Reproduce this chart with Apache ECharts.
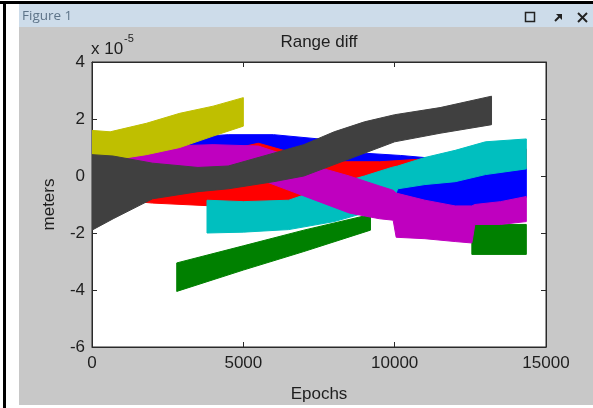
<!DOCTYPE html>
<html>
<head>
<meta charset="utf-8">
<script src="https://cdn.jsdelivr.net/npm/echarts@6/dist/echarts.min.js"></script>
<style>
  html, body { margin: 0; padding: 0; background: #ffffff; }
  #chart { width: 593px; height: 408px; }
</style>
</head>
<body>
<div id="chart"></div>
<script>
// Range difference per receiver, in units of 1e-5 m, as envelope bands (low / high) over epochs.
const xTicks = [0, 5000, 10000, 15000];
const yTicks = [-6, -4, -2, 0, 2, 4];

const blueEpochs = [0, 1500, 3000, 4500, 6000, 7500, 9000, 10200, 11500, 12500, 13500, 14350];
const blueHigh   = [0.3, 0.8, 1.35, 1.45, 1.45, 1.3, 0.8, 0.72, 0.6, 0.5, 0.4, 0.3];
const blueLow    = [-0.6, -0.7, -0.7, -0.7, -0.7, -0.6, -0.45, -0.65, -1.15, -1.15, -0.95, -0.75];

const greenEpochsA = [2800, 5000, 7000, 9200];
const greenHighA   = [-3.05, -2.45, -1.9, -1.35];
const greenLowA    = [-4.05, -3.3, -2.65, -1.9];
const greenEpochsB = [12550, 14350];
const greenHighB   = [-1.7, -1.7];
const greenLowB    = [-2.75, -2.75];

const redEpochs = [500, 2000, 4000, 5500, 6500, 8000, 9500, 11000, 13000, 14350];
const redHigh   = [0.2, 0.4, 0.8, 1.15, 0.85, 0.5, 0.5, 0.6, 0.75, 0.95];
const redLow    = [-0.8, -0.95, -1.05, -1.05, -1.05, -0.45, -0.25, -0.05, 0.15, 0.3];

const cyanEpochs = [3800, 5000, 6500, 8000, 9000, 9900, 10100, 11000, 12000, 13000, 14350];
const cyanHigh   = [-0.85, -0.9, -0.85, -0.3, 0.0, 0.3, 0.35, 0.65, 0.9, 1.2, 1.3];
const cyanLow    = [-2.0, -1.97, -1.88, -1.6, -1.3, -1.05, -0.45, -0.3, -0.2, 0.05, 0.25];

const magentaEpochs = [0, 1000, 2500, 4000, 5500, 6500, 7500, 8500, 9500, 9950, 10050, 11000, 12000, 12550, 12650, 13500, 14350];
const magentaHigh   = [0.3, 0.6, 1.05, 1.1, 1.05, 0.7, 0.3, 0.0, -0.35, -0.5, -0.6, -0.85, -1.05, -1.05, -1.0, -0.9, -0.72];
const magentaLow    = [-0.3, -0.2, 0.0, 0.0, -0.1, -0.5, -0.9, -1.3, -1.5, -1.55, -2.15, -2.2, -2.3, -2.35, -1.7, -1.7, -1.6];

const yellowEpochs = [0, 600, 1800, 2900, 4000, 5000];
const yellowHigh   = [1.6, 1.55, 1.85, 2.2, 2.45, 2.75];
const yellowLow    = [0.6, 0.55, 0.75, 1.0, 1.4, 1.75];

const greyEpochs = [0, 700, 2000, 3500, 4500, 6000, 7000, 8000, 9000, 10000, 11500, 13200];
const greyHigh   = [0.75, 0.7, 0.45, 0.3, 0.35, 0.8, 1.1, 1.55, 1.9, 2.15, 2.4, 2.8];
const greyLow    = [-1.9, -1.5, -0.8, -0.55, -0.45, -0.2, 0.0, 0.4, 0.8, 1.2, 1.5, 1.8];

function rows(ep, lo, hi) { return ep.map((e, i) => [e, lo[i], hi[i]]); }

// Each band is drawn as one filled polygon through the axis scales.
function bandSeries(name, color, ep, lo, hi) {
  return {
    type: 'custom',
    name: name,
    data: rows(ep, lo, hi),
    encode: { x: 0, y: [1, 2] },
    clip: true,
    silent: true,
    renderItem: function (params, api) {
      if (params.dataIndexInside !== 0) return null;
      const n = params.dataInsideLength;
      const top = [], bot = [];
      for (let i = 0; i < n; i++) {
        top.push(api.coord([api.value(0, i), api.value(2, i)]));
        bot.push(api.coord([api.value(0, i), api.value(1, i)]));
      }
      return {
        type: 'polygon',
        shape: { points: top.concat(bot.reverse()) },
        style: { fill: color, stroke: color, lineWidth: 1 }
      };
    }
  };
}

const FONT = 'Liberation Sans';
const INK = '#1e1e1e';
const chart = echarts.init(document.getElementById('chart'), null, { renderer: 'canvas' });

const axisCommon = {
  type: 'value',
  axisLine: { show: true, onZero: false, lineStyle: { color: '#2a2a2a', width: 1 } },
  axisTick: { show: true, inside: true, length: 5, lineStyle: { color: '#2a2a2a' } },
  splitLine: { show: false }
};

chart.setOption({
  animation: false,
  backgroundColor: '#ffffff',
  grid: { left: 92, top: 62, width: 454, height: 292, show: true, backgroundColor: '#ffffff', borderColor: '#2a2a2a', borderWidth: 1 },
  xAxis: [
    Object.assign({}, axisCommon, {
      min: xTicks[0], max: xTicks[xTicks.length - 1], interval: 5000, position: 'bottom',
      axisLabel: { fontSize: 17, color: INK, fontFamily: FONT, margin: 8,
        formatter: v => xTicks.includes(v) ? String(v) : '' },
      name: 'Epochs', nameLocation: 'middle', nameGap: 39,
      nameTextStyle: { fontSize: 17, color: INK, fontFamily: FONT }
    }),
    Object.assign({}, axisCommon, {
      min: xTicks[0], max: xTicks[xTicks.length - 1], interval: 5000, position: 'top',
      axisLabel: { show: false }
    })
  ],
  yAxis: [
    Object.assign({}, axisCommon, {
      min: yTicks[0], max: yTicks[yTicks.length - 1], interval: 2, position: 'left',
      axisLabel: { fontSize: 17, color: INK, fontFamily: FONT, margin: 7 },
      name: 'meters', nameLocation: 'middle', nameGap: 34, nameRotate: 90,
      nameTextStyle: { fontSize: 17, color: INK, fontFamily: FONT }
    }),
    Object.assign({}, axisCommon, {
      min: yTicks[0], max: yTicks[yTicks.length - 1], interval: 2, position: 'right',
      axisLabel: { show: false }
    })
  ],
  graphic: [
    // window frame
    { type: 'rect', z: -10, shape: { x: 19, y: 4, width: 574, height: 401 }, style: { fill: '#c8c8c8' } },
    { type: 'rect', z: -9, shape: { x: 19, y: 4, width: 574, height: 23 }, style: { fill: '#cddcea' } },
    { type: 'rect', z: -8, shape: { x: 0, y: 1, width: 593, height: 3 }, style: { fill: '#000000' } },
    { type: 'rect', z: -8, shape: { x: 3, y: 1, width: 3, height: 407 }, style: { fill: '#000000' } },
    { type: 'text', z: 5, style: { text: 'Figure 1', x: 22, y: 16, fill: '#5d7388', font: '13.5px "Open Sans"', textVerticalAlign: 'middle' } },
    { type: 'rect', z: 5, shape: { x: 525.5, y: 12.5, width: 9, height: 9 }, style: { fill: 'none', stroke: '#222', lineWidth: 1.5 } },
    { type: 'polyline', z: 5, shape: { points: [[555, 21], [561, 15]] }, style: { stroke: '#222', lineWidth: 2 } },
    { type: 'polygon', z: 5, shape: { points: [[556, 14], [562, 14], [562, 20]] }, style: { fill: '#222' } },
    { type: 'polyline', z: 5, shape: { points: [[578, 13], [587, 22]] }, style: { stroke: '#222', lineWidth: 2 } },
    { type: 'polyline', z: 5, shape: { points: [[587, 13], [578, 22]] }, style: { stroke: '#222', lineWidth: 2 } },
    // title and exponent
    { type: 'text', z: 5, style: { text: 'Range diff', x: 319, y: 42, fill: INK, font: '17px "Liberation Sans"', textAlign: 'center', textVerticalAlign: 'middle' } },
    { type: 'text', z: 5, style: { text: 'x 10', x: 91, y: 49, fill: INK, font: '17px "Liberation Sans"', textVerticalAlign: 'middle' } },
    { type: 'text', z: 5, style: { text: '-5', x: 124, y: 39, fill: INK, font: '11px "Liberation Sans"', textVerticalAlign: 'middle' } }
  ],
  series: [
    bandSeries('blue', '#0000ff', blueEpochs, blueLow, blueHigh),
    bandSeries('green', '#008000', greenEpochsA, greenLowA, greenHighA),
    bandSeries('green', '#008000', greenEpochsB, greenLowB, greenHighB),
    bandSeries('red', '#ff0000', redEpochs, redLow, redHigh),
    bandSeries('cyan', '#00bfbf', cyanEpochs, cyanLow, cyanHigh),
    bandSeries('magenta', '#bf00bf', magentaEpochs, magentaLow, magentaHigh),
    bandSeries('yellow', '#bfbf00', yellowEpochs, yellowLow, yellowHigh),
    bandSeries('grey', '#404040', greyEpochs, greyLow, greyHigh)
  ]
});
</script>
</body>
</html>
